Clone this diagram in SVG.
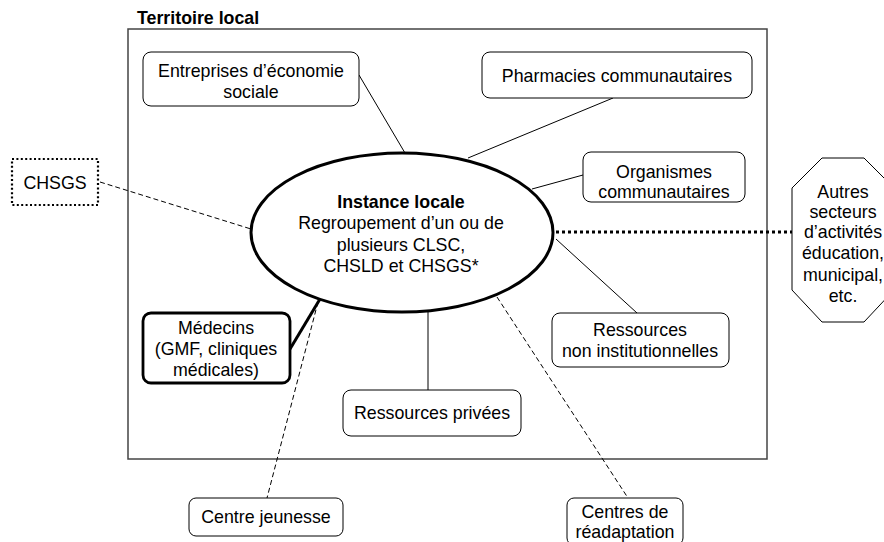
<svg xmlns="http://www.w3.org/2000/svg" width="884" height="542" viewBox="0 0 884 542">
<style>
text{font-family:"Liberation Sans",Arial,sans-serif;font-size:17.8px;fill:#000;text-anchor:middle}
.b{font-weight:bold}
.box{fill:#fff;stroke:#000;stroke-width:1}
.thick{fill:#fff;stroke:#000;stroke-width:2.8}
.ln{stroke:#000;stroke-width:1;fill:none}
.dash{stroke:#000;stroke-width:1;stroke-dasharray:5 3;fill:none}
</style>
<rect width="884" height="542" fill="#fff"/>
<g id="territoire">
<rect x="128" y="29" width="639" height="430" fill="none" stroke="#444" stroke-width="1.5"/>
<text class="b" x="137" y="24" style="text-anchor:start">Territoire local</text>
</g>
<g id="connectors">
<line class="ln" x1="359" y1="75" x2="405" y2="153"/>
<line class="ln" x1="613" y1="98" x2="468" y2="158"/>
<line class="ln" x1="583" y1="175" x2="532" y2="189"/>
<line class="ln" x1="556" y1="239" x2="637" y2="313"/>
<line class="ln" x1="428" y1="312" x2="428" y2="390"/>
<line stroke="#000" stroke-width="3" x1="290" y1="349" x2="320" y2="299"/>
<line class="dash" x1="100" y1="182" x2="251" y2="229"/>
<line class="dash" x1="318" y1="302" x2="267" y2="498"/>
<line class="dash" x1="497" y1="297" x2="628" y2="498"/>
<line stroke="#000" stroke-width="3" stroke-dasharray="3 3" x1="556" y1="232" x2="792" y2="232"/>
</g>
<g id="instance">
<ellipse cx="402" cy="232.5" rx="151" ry="79.5" fill="#fff" stroke="#000" stroke-width="3"/>
<text class="b" x="401" y="208">Instance locale</text>
<text x="401" y="229">Regroupement d’un ou de</text>
<text x="401" y="251">plusieurs CLSC,</text>
<text x="401" y="272">CHSLD et CHSGS*</text>
</g>
<g id="entreprises">
<rect class="box" x="143" y="52" width="216" height="54" rx="8"/>
<text x="251" y="77">Entreprises d’économie</text>
<text x="251" y="98">sociale</text>
</g>
<g id="pharmacies">
<rect class="box" x="482" y="52" width="270" height="46" rx="8"/>
<text x="617" y="82">Pharmacies communautaires</text>
</g>
<g id="organismes">
<rect class="box" x="583" y="152" width="162" height="50" rx="8"/>
<text x="664" y="178">Organismes</text>
<text x="664" y="198">communautaires</text>
</g>
<g id="ressources-non">
<rect class="box" x="552" y="313" width="177" height="54" rx="8"/>
<text x="640" y="336">Ressources</text>
<text x="640" y="357">non institutionnelles</text>
</g>
<g id="ressources-privees">
<rect class="box" x="343" y="390" width="178" height="46" rx="8"/>
<text x="432" y="419">Ressources privées</text>
</g>
<g id="medecins">
<rect class="thick" x="143" y="313" width="147" height="70" rx="8"/>
<text x="216" y="334">Médecins</text>
<text x="216" y="355">(GMF, cliniques</text>
<text x="216" y="376">médicales)</text>
</g>
<g id="chsgs">
<rect x="12" y="159" width="86" height="46" fill="#fff" stroke="#000" stroke-width="2.2" stroke-dasharray="2 2.4"/>
<text x="55" y="189">CHSGS</text>
</g>
<g id="centre-jeunesse">
<rect class="box" x="189" y="498" width="154" height="38" rx="7"/>
<text x="266" y="523">Centre jeunesse</text>
</g>
<g id="centres-readaptation">
<rect class="box" x="567" y="498" width="116" height="47" rx="7"/>
<text x="625" y="518">Centres de</text>
<text x="625" y="538">réadaptation</text>
</g>
<g id="autres">
<polygon points="822,158 864,158 894,188 894,290 864,322 822,322 792,290 792,188" fill="#fff" stroke="#000" stroke-width="1"/>
<text x="843" y="198">Autres</text>
<text x="843" y="218">secteurs</text>
<text x="843" y="238">d’activités</text>
<text x="843" y="259">éducation,</text>
<text x="843" y="281">municipal,</text>
<text x="843" y="302">etc.</text>
</g>
</svg>
